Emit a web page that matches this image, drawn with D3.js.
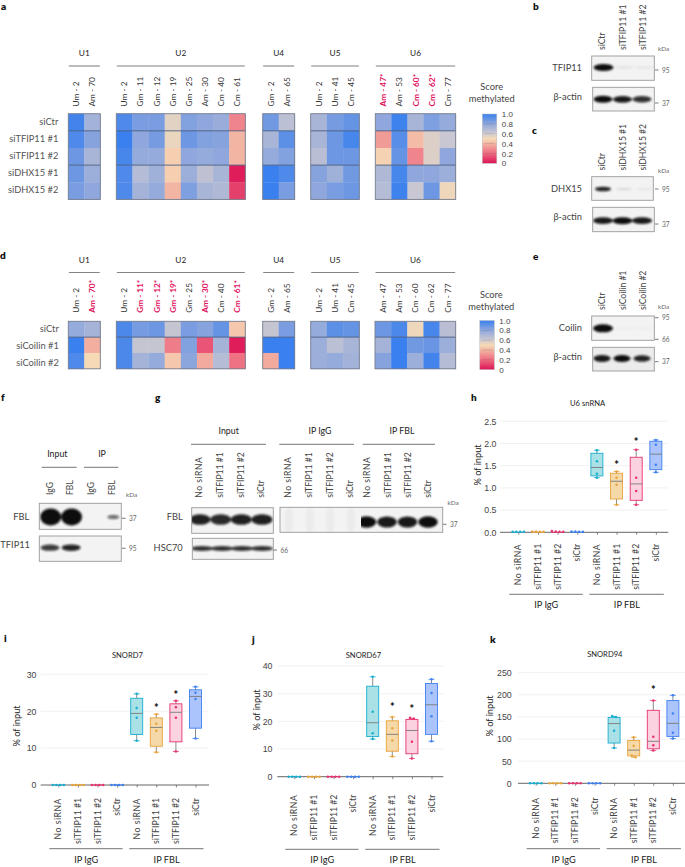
<!DOCTYPE html>
<html>
<head>
<meta charset="utf-8">
<script src="https://cdn.jsdelivr.net/npm/d3@7"></script>
<style>
html, body { margin: 0; padding: 0; background: #fff; }
svg { display: block; font-family: Lato, "Open Sans", sans-serif; fill: #333; }
</style>
</head>
<body>
<svg id="fig" width="685" height="867"></svg>
<script>
// heatmap columns
var colsU1 = ["Um - 2", "Am - 70"];
var colsU2 = ["Um - 2", "Gm - 11", "Gm - 12", "Gm - 19", "Gm - 25", "Am - 30", "Cm - 40", "Cm - 61"];
var colsU4 = ["Gm - 2", "Am - 65"];
var colsU5 = ["Um - 2", "Um - 41", "Cm - 45"];
var colsU6 = ["Am - 47", "Am - 53", "Cm - 60", "Cm - 62", "Cm - 77"];

// * = significant, drawn in red
var colsU6a = ["Am - 47*", "Am - 53", "Cm - 60*", "Cm - 62*", "Cm - 77"];
var colsU1d = ["Um - 2", "Am - 70*"];
var colsU2d = ["Um - 2", "Gm - 11*", "Gm - 12*", "Gm - 19*", "Gm - 25", "Am - 30*", "Cm - 40", "Cm - 61*"];

var rowsA = ["siCtr", "siTFIP11 #1", "siTFIP11 #2", "siDHX15 #1", "siDHX15 #2"];
var rowsD = ["siCtr", "siCoilin #1", "siCoilin #2"];

var aU1 = [[.98, .74], [.95, .82], [.88, .72], [.88, .76], [.85, .80]];
var aU2 = [
    [.95, .85, .85, .55, .83, .80, .77, .27],
    [1.0, .80, .86, .53, .88, .83, .82, .40],
    [.97, .78, .78, .47, .80, .78, .80, .40],
    [.95, .68, .75, .47, .76, .65, .72, .02],
    [.95, .73, .78, .40, .84, .72, .70, .10]
];
var aU4 = [[.87, .66], [.72, .92], [.78, .83], [1.0, .95], [1.0, .85]];
var aU5 = [[.72, .86, .90], [.72, .88, .97], [.67, .88, .88], [.82, .75, .87], [.80, .85, .88]];
var aU6 = [
    [.80, .99, .72, .84, .78],
    [.33, .93, .42, .57, .62],
    [.48, .90, .27, .57, .80],
    [.70, .97, .80, .80, .76],
    [.68, .99, .62, .88, .52]
];

var dU1 = [[.78, .73], [1.0, .38], [.95, .50]];
var dU2 = [
    [.96, .86, .88, .63, .85, .82, .90, .45],
    [.96, .63, .63, .25, .83, .15, .73, .02],
    [.96, .73, .78, .45, .81, .37, .68, .22]
];
var dU4 = [[.63, .85], [1, 1], [.37, 1]];
var dU5 = [[.78, .92, .90], [.76, .66, .72], [.76, .78, .74]];
var dU6 = [
    [.88, .96, .52, .97, .67],
    [.73, 1, .87, .89, .76],
    [.82, 1, .76, .98, .68]
];

var scoreStops = [0, .2, .4, .5, .6, .8, 1];
var scoreColors = ["#dc1456", "#ee6a80", "#f3b5a3", "#f6dab6", "#cfcad0", "#8fa7dc", "#3a80ee"];
var scoreTicks = [0, .2, .4, .6, .8, 1];

// box plots
var lanes = ["No siRNA", "siTFIP11 #1", "siTFIP11 #2", "siCtr"];
var laneStroke = ["#18aed0", "#e8a33a", "#e8326f", "#3f80f0"];
var laneFill = ["#a9e1e6", "#f6d9a9", "#fbd2df", "#abc4fb"];

// [low whisker, q1, median, q3, high whisker]
var hBoxes = [[1.23, 1.27, 1.46, 1.78, 1.85], [.62, .75, 1.15, 1.33, 1.37], [.62, .72, 1.09, 1.69, 1.86], [1.35, 1.41, 1.76, 2.05, 2.08]];
var hPts = [[1.85, 1.60, 1.32, 1.23], [1.37, 1.23, 1.07, .62], [1.86, 1.23, .93, .62], [2.08, 1.97, 1.52, 1.35]];
var hIgg = [[.01, .01, .01, .01], [.01, .02, .01, .02], [.01, .02, .03, .01], [.01, .02, .01, .02]];
var hStars = [null, 1.52, 2.05, null];
var hTicks = [0, .5, 1, 1.5, 2, 2.5];

var iBoxes = [[12, 13.7, 19.4, 23.5, 24.7], [8.9, 10.5, 15.6, 18.2, 19.2], [9.1, 11.7, 19.7, 22, 22.8], [12.6, 15.4, 24, 25.8, 26.6]];
var iPts = [[24.7, 20.9, 18.2, 12], [19.2, 16.6, 14.7, 8.9], [22.8, 21.1, 18.2, 9.1], [26.6, 25, 23.3, 12.6]];
var iIgg = [[0, 0, 0, 0], [0, 0, 0, 0], [0, 0, 0, 0], [0, 0, 0, 0]];
var iStars = [null, 21, 24.5, null];
var iTicks = [0, 10, 20, 30];

var jBoxes = [[13.6, 14.5, 19.5, 32.7, 36.1], [7.3, 9.2, 15.3, 20.2, 21.6], [6.6, 8.3, 16.7, 20.7, 21.1], [12.8, 15.3, 26, 33.7, 35.2]];
var jPts = [[36.1, 23.5, 15.7, 13.6], [21.6, 17.5, 13.1, 7.3], [21.3, 20.9, 12.6, 6.6], [35.2, 30.2, 21.8, 12.8]];
var jIgg = [[0, 0, 0, 0], [0, 0, 0, 0], [0, 0, 0, 0], [0, 0, 0, 0]];
var jStars = [null, 25.2, 24.5, null];
var jTicks = [0, 10, 20, 30, 40];

var kBoxes = [[80, 91, 135, 149, 151], [59, 62, 75, 97, 104], [74, 78, 95, 165, 187], [101, 106, 135.5, 187, 199]];
var kPts = [[152, 150, 119, 80], [104, 85, 63, 59], [187, 105, 86, 74], [199, 158, 114, 101]];
var kIgg = [[0, 0, 0, 0], [0, 0, 0, 0], [0, 0, 0, 0], [0, 0, 0, 0]];
var kStars = [null, null, 211, null];
var kTicks = [0, 50, 100, 150, 200, 250];

// western blot band strength per lane, 0 = no band
var bTfip = [1, .07, .05];
var bActin = [1, .95, .85];
var cDhx = [.9, .12, .06];
var cActin = [.95, 1, .95];
var eCoilin = [1, .02, .02];
var eActin = [.95, 1, .9];
var fFbl = [1, 1, 0, .6];
var fTfip = [.8, .9, 0, 0];
var gFbl = [.92, .88, .92, .92];
var gHsc = [.85, .85, .85, .85];
var gIgg = [.03, .03, .03, .03];
var gIp = [1, .95, .95, 1];

var svg = d3.select("#fig");

var defs = svg.append("defs");
var blur = defs.append("filter").attr("id", "blot-blur")
    .attr("x", "-30%").attr("y", "-60%").attr("width", "160%").attr("height", "220%");
blur.append("feGaussianBlur").attr("stdDeviation", 1.2);

var score = d3.scaleLinear().domain(scoreStops).range(scoreColors);

function label(x, y, txt, size, anchor, color, weight) {
    return svg.append("text")
        .attr("x", x).attr("y", y)
        .attr("text-anchor", anchor || "middle")
        .style("font-size", size + "px")
        .style("fill", color || "#333")
        .style("font-weight", weight || null)
        .text(txt);
}

function rule(x1, x2, y, color, w) {
    svg.append("line").attr("x1", x1).attr("x2", x2).attr("y1", y).attr("y2", y)
        .style("stroke", color).style("stroke-width", w);
}

function heatGroup(opt) {
    var x = d3.scaleBand().domain(opt.cols).range([opt.x0, opt.x1]);
    var y = d3.scaleBand().domain(opt.rows).range([opt.y0, opt.y1]);
    var g = svg.append("g");

    opt.values.forEach(function(row, i) {
        g.selectAll(null)
            .data(row)
            .enter()
            .append("rect")
            .attr("x", function(d, j) {return x(opt.cols[j]);})
            .attr("y", y(opt.rows[i]))
            .attr("width", x.bandwidth() + .3)
            .attr("height", y.bandwidth() + .3)
            .style("fill", function(d) {return score(d);});
    });

    opt.splits.forEach(function(r) {
        g.append("line")
            .attr("x1", opt.x0).attr("x2", opt.x1)
            .attr("y1", y(opt.rows[r])).attr("y2", y(opt.rows[r]))
            .style("stroke", "#4c5f80").style("stroke-width", .9);
    });

    g.append("rect")
        .attr("x", opt.x0).attr("y", opt.y0)
        .attr("width", opt.x1 - opt.x0).attr("height", opt.y1 - opt.y0)
        .style("fill", "none").style("stroke", "#757c8c").style("stroke-width", .9);

    // rotated column names
    opt.cols.forEach(function(c) {
        var hit = c.indexOf("*") >= 0;
        g.append("text")
            .attr("transform", "translate(" + (x(c) + x.bandwidth() / 2 + 3) + "," + opt.labelY + ") rotate(-90)")
            .style("font-size", "8.3px")
            .style("fill", hit ? "#e0105c" : "#333")
            .style("font-weight", hit ? 700 : null)
            .text(c);
    });

    rule(opt.x0 + .5, opt.x1 - .5, opt.ruleY, opt.ruleColor, opt.ruleW);
    label((opt.x0 + opt.x1) / 2, opt.ruleY - 10, opt.name, 8.3, "middle", "#222");
}

function heatLegend(x, y0, y1, titleX, titleY, gradId) {
    var y = d3.scaleLinear().domain([0, 1]).range([y1, y0]);
    var grad = defs.append("linearGradient").attr("id", gradId)
        .attr("x1", 0).attr("x2", 0).attr("y1", 1).attr("y2", 0);
    scoreStops.forEach(function(s) {
        grad.append("stop").attr("offset", s).attr("stop-color", score(s));
    });
    svg.append("rect").attr("x", x).attr("y", y0).attr("width", 14.5).attr("height", y1 - y0)
        .style("fill", "url(#" + gradId + ")").style("stroke", "#bbb").style("stroke-width", .5);
    var ax = svg.append("g").attr("transform", "translate(" + (x + 14.5) + ",0)")
        .call(d3.axisRight(y).tickValues(scoreTicks).tickSize(0).tickPadding(5)
            .tickFormat(function(d) {return d == 0 ? "0" : d3.format(".1f")(d);}));
    ax.select(".domain").remove();
    ax.selectAll("text").style("font-size", "8px").style("font-family", "inherit").style("fill", "#444");
    scoreTicks.slice(1, -1).forEach(function(t) {
        svg.append("line").attr("x1", x + 2).attr("x2", x + 12.5).attr("y1", y(t)).attr("y2", y(t))
            .style("stroke", "#555").style("stroke-width", .4).style("opacity", .5);
    });
    label(titleX, titleY, "Score", 9.3, "middle", "#444");
    label(titleX, titleY + 12, "methylated", 9.3, "middle", "#444");
}

function blot(opt) {
    var id = "clip" + (blot.n = (blot.n || 0) + 1);
    defs.append("clipPath").attr("id", id).append("rect")
        .attr("x", opt.x).attr("y", opt.y).attr("width", opt.w).attr("height", opt.h);
    var g = svg.append("g");
    g.append("rect").attr("x", opt.x).attr("y", opt.y).attr("width", opt.w).attr("height", opt.h)
        .style("fill", opt.bg || "#f3f3f3");
    var x = d3.scaleLinear().domain([0, opt.bands.length - 1]).range(opt.laneRange);
    var size = function(i) {return opt.sizes ? opt.sizes[i] : 1;};
    g.append("g").attr("clip-path", "url(#" + id + ")")
        .append("g").attr("filter", "url(#blot-blur)")
        .selectAll("ellipse")
        .data(opt.bands)
        .enter()
        .append("ellipse")
        .attr("cx", function(d, i) {return x(i);})
        .attr("cy", opt.bandY)
        .attr("rx", function(d, i) {return opt.bandW / 2 * Math.sqrt(size(i));})
        .attr("ry", function(d, i) {
            return opt.bandH / 2 * size(i) * (opt.flat ? 1 : Math.max(.45, Math.sqrt(d)));
        })
        .style("fill", "#0c0c0c")
        .style("opacity", function(d) {return d;});
    if (!opt.noBorder) {
        g.append("rect").attr("x", opt.x).attr("y", opt.y).attr("width", opt.w).attr("height", opt.h)
            .style("fill", "none").style("stroke", "#999").style("stroke-width", .9);
    }
    if (opt.name) label(opt.nameX, opt.nameY, opt.name, 9.3, "end", "#444");
}

function kdaTick(x, y, txt) {
    svg.append("line").attr("x1", x).attr("x2", x + 3.5).attr("y1", y).attr("y2", y)
        .style("stroke", "#555").style("stroke-width", .8);
    label(x + 7, y + 2.5, txt, 6.6, "start", "#666");
}

function blotLabels(names, xs, y) {
    names.forEach(function(n, i) {
        svg.append("text")
            .attr("transform", "translate(" + xs[i] + "," + y + ") rotate(-90)")
            .style("font-size", "8.6px").style("fill", "#444")
            .style("letter-spacing", n == "No siRNA" ? ".5px" : null)
            .text(n);
    });
}

function boxPanel(opt) {
    var y = d3.scaleLinear().domain(opt.domain).range([opt.y0, opt.yTop]);
    var step = opt.step;
    var names = [0, 1, 2, 3, 4, 5, 6, 7];
    var x = d3.scalePoint().domain(names).range([opt.lane0, opt.lane0 + step * 7]);
    var g = svg.append("g");

    g.selectAll("line.grid")
        .data(opt.ticks.slice(1))
        .enter()
        .append("line")
        .classed("grid", true)
        .attr("x1", opt.axisX0).attr("x2", opt.axisX1)
        .attr("y1", function(d) {return y(d);}).attr("y2", function(d) {return y(d);})
        .style("stroke", "#efefef").style("stroke-width", .9);

    var yAx = g.append("g").attr("transform", "translate(" + opt.tickX + ",0)")
        .call(d3.axisLeft(y).tickValues(opt.ticks).tickSize(0).tickPadding(0).tickFormat(d3.format(opt.fmt)));
    yAx.select(".domain").remove();
    yAx.selectAll("text").style("font-size", "8.8px").style("font-family", "inherit").style("fill", "#444");

    // zero line and lane ticks
    var xAx = g.append("g").attr("transform", "translate(0," + opt.y0 + ")")
        .call(d3.axisBottom(x).tickSize(2.5).tickFormat(""));
    xAx.select(".domain").attr("d", "M" + opt.axisX0 + ",0H" + opt.axisX1).style("stroke", "#555").style("stroke-width", .9);
    xAx.selectAll("line").style("stroke", "#555").style("stroke-width", .7);

    names.forEach(function(n) {
        g.append("text")
            .attr("transform", "translate(" + (x(n) + 3) + "," + (opt.y0 + opt.labelGap) + ") rotate(-90)")
            .attr("text-anchor", "end")
            .style("font-size", "8.7px").style("fill", "#444")
            .style("letter-spacing", n % 4 == 0 ? ".5px" : null)
            .text(lanes[n % 4]);
    });

    function dots(vals, cx, color) {
        var sorted = vals.slice().sort(d3.descending);
        var groups = [];
        sorted.forEach(function(v) {
            var last = groups[groups.length - 1];
            if (last && y(v) - y(last[last.length - 1]) < 3) last.push(v);
            else groups.push([v]);
        });
        groups.forEach(function(gr) {
            gr.forEach(function(v, i) {
                g.append("circle")
                    .attr("cx", cx + (i - (gr.length - 1) / 2) * 3.8)
                    .attr("cy", y(v))
                    .attr("r", 1.25)
                    .style("fill", color);
            });
        });
    }

    // IP IgG, everything sits on the zero line
    opt.igg.forEach(function(vals, i) {
        var cx = x(i);
        g.append("line").attr("x1", cx - 6).attr("x2", cx + 6).attr("y1", opt.y0).attr("y2", opt.y0)
            .style("stroke", laneStroke[i]).style("stroke-width", .9);
        dots(vals, cx, laneStroke[i]);
    });

    // IP FBL
    opt.boxes.forEach(function(b, i) {
        var cx = x(i + 4), c = laneStroke[i];
        g.append("line").attr("x1", cx).attr("x2", cx).attr("y1", y(b[0])).attr("y2", y(b[4]))
            .style("stroke", "#8c8c8c").style("stroke-width", 1);
        [b[0], b[4]].forEach(function(v) {
            g.append("line").attr("x1", cx - 3).attr("x2", cx + 3).attr("y1", y(v)).attr("y2", y(v))
                .style("stroke", c).style("stroke-width", .8);
        });
        g.append("rect").attr("x", cx - 6).attr("width", 12)
            .attr("y", y(b[3])).attr("height", y(b[1]) - y(b[3]))
            .style("fill", laneFill[i]).style("stroke", c).style("stroke-width", .9);
        g.append("line").attr("x1", cx - 6).attr("x2", cx + 6).attr("y1", y(b[2])).attr("y2", y(b[2]))
            .style("stroke", "#7a7a7a").style("stroke-width", .9);
        dots(opt.pts[i], cx, c);
        if (opt.stars[i] != null) {
            label(cx, y(opt.stars[i]) + 4.4, "*", 11, "middle", "#111", 900);
        }
    });

    // title and brackets
    label(x(3) + step / 2 + .5, opt.titleY, opt.title, 7.6, "middle", "#222");
    svg.append("text")
        .attr("transform", "translate(" + opt.yLabelX + "," + opt.yLabelY + ") rotate(-90)")
        .attr("text-anchor", "middle")
        .style("font-size", "9.2px").style("fill", "#222")
        .text("% of input");
    var bx = opt.bracketY;
    rule(x(0) - 9, x(3) + 5.5, bx, "#666", .9);
    rule(x(4) - 7.5, x(7) + 8, bx, "#666", .9);
    label((x(0) + x(3)) / 2 - 1.5, bx + 14, "IP IgG", 9.2, "middle", "#222");
    label((x(4) + x(7)) / 2 + .5, bx + 14, "IP FBL", 9.2, "middle", "#222");
}

// panel letters
[["a", 1, 10], ["b", 533, 10], ["c", 532, 134], ["d", 0, 259], ["e", 533, 260], ["f", 1, 401],
 ["g", 155, 401], ["h", 471, 401], ["i", 4, 642], ["j", 252, 643], ["k", 490, 643]].forEach(function(p) {
    label(p[1], p[2], p[0], 10, "start", "#111", 800);
});

// panel a heatmaps
var aGroups = [
    {name: "U1", cols: colsU1, values: aU1, x0: 68.3, x1: 100.3},
    {name: "U2", cols: colsU2, values: aU2, x0: 116.3, x1: 245.3},
    {name: "U4", cols: colsU4, values: aU4, x0: 262.7, x1: 294.7},
    {name: "U5", cols: colsU5, values: aU5, x0: 310.7, x1: 359.3},
    {name: "U6", cols: colsU6a, values: aU6, x0: 375.3, x1: 455.7}
];
aGroups.forEach(function(o) {
    o.rows = rowsA; o.y0 = 113.7; o.y1 = 199.4; o.splits = [1, 3];
    o.labelY = 106.5; o.ruleY = 66; o.ruleColor = "#aaa"; o.ruleW = 1.6;
    heatGroup(o);
});
rowsA.forEach(function(r, i) {
    label(58.3, 124.8 + i * 17.05, r, 9.3, "end", "#555");
});
heatLegend(482.3, 114, 163.3, 491.7, 89.5, "legA");

// panel d heatmaps
var dGroups = [
    {name: "U1", cols: colsU1d, values: dU1, x0: 68.3, x1: 100.3},
    {name: "U2", cols: colsU2d, values: dU2, x0: 116.3, x1: 245.3},
    {name: "U4", cols: colsU4, values: dU4, x0: 262.7, x1: 294.7},
    {name: "U5", cols: colsU5, values: dU5, x0: 310.7, x1: 359.3},
    {name: "U6", cols: colsU6, values: dU6, x0: 375, x1: 455.7}
];
dGroups.forEach(function(o) {
    o.rows = rowsD; o.y0 = 321.3; o.y1 = 368.8; o.splits = [1];
    o.labelY = 312.8; o.ruleY = 272.5; o.ruleColor = "#777"; o.ruleW = .9;
    heatGroup(o);
});
rowsD.forEach(function(r, i) {
    label(58.8, 331.8 + i * 17, r, 9.3, "end", "#555");
});
heatLegend(479.8, 320.5, 369.7, 491.3, 297.5, "legD");

// panel b
blotLabels(["siCtr", "siTFIP11 #1", "siTFIP11 #2"], [604.5, 625.5, 645.5], 50);
label(658, 51, "kDa", 6.4, "start", "#666");
blot({x: 591.7, y: 56, w: 62.6, h: 24.3, bands: bTfip, laneRange: [603.5, 644], bandY: 67.5, bandW: 20, bandH: 7, name: "TFIP11", nameX: 582, nameY: 71});
kdaTick(655, 70, "95");
blot({x: 592.7, y: 87.3, w: 61.6, h: 23.7, bands: bActin, laneRange: [603, 642], bandY: 99.3, bandW: 19, bandH: 7, name: "β-actin", nameX: 582, nameY: 100});
kdaTick(655, 103, "37");

// panel c
blotLabels(["siCtr", "siDHX15 #1", "siDHX15 #2"], [604.5, 625.5, 645.5], 170.5);
label(658, 173, "kDa", 6.4, "start", "#666");
blot({x: 591.7, y: 176.7, w: 61.6, h: 23.6, bands: cDhx, laneRange: [603, 645], bandY: 189, bandW: 16, bandH: 5, name: "DHX15", nameX: 582, nameY: 191.5});
kdaTick(655, 189, "95");
blot({x: 592.7, y: 207.3, w: 61.6, h: 24.4, bands: cActin, laneRange: [603, 642], bandY: 220.7, bandW: 20, bandH: 7, name: "β-actin", nameX: 582, nameY: 220});
kdaTick(655, 224, "37");

// panel e
blotLabels(["siCtr", "siCoilin #1", "siCoilin #2"], [604.5, 625.5, 645.5], 310);
label(658, 308.5, "kDa", 6.4, "start", "#666");
blot({x: 591.7, y: 316, w: 62.6, h: 24.3, bands: eCoilin, laneRange: [603, 643], bandY: 328.3, bandW: 20, bandH: 8, name: "Coilin", nameX: 582, nameY: 331});
kdaTick(655, 317.7, "95");
kdaTick(655, 339.3, "66");
blot({x: 592.7, y: 347.3, w: 61.6, h: 23.7, bg: "#ececec", bands: eActin, laneRange: [602, 642], bandY: 358.5, bandW: 17, bandH: 7, name: "β-actin", nameX: 582, nameY: 360});
kdaTick(655, 361.7, "37");

// panel f
label(57.3, 457, "Input", 8.8, "middle", "#222");
label(102, 457, "IP", 8.8, "middle", "#222");
rule(41.7, 76.7, 467.3, "#666", .9);
rule(84, 118.3, 467.3, "#666", .9);
blotLabels(["IgG", "FBL", "IgG", "FBL"], [52.5, 73, 94, 115], 495);
label(126, 497, "kDa", 6.4, "start", "#666");
blot({x: 39.3, y: 503.3, w: 82, h: 26, bands: fFbl, sizes: [1, 1, 1, .32], laneRange: [50.7, 113.3], bandY: 517, bandW: 21, bandH: 17, name: "FBL", nameX: 29.3, nameY: 519.5});
kdaTick(122, 518.3, "37");
blot({x: 39.3, y: 536, w: 82, h: 25.3, bands: fTfip, laneRange: [50, 113.3], bandY: 547.7, bandW: 19, bandH: 7, name: "TFIP11", nameX: 30, nameY: 548});
kdaTick(122, 548.3, "95");

// panel g
label(228.7, 434, "Input", 8.8, "middle", "#222");
label(320, 434, "IP IgG", 8.8, "middle", "#222");
label(402, 434, "IP FBL", 8.8, "middle", "#222");
rule(191, 266, 444.3, "#666", .9);
rule(279.3, 354, 444.3, "#666", .9);
rule(362.7, 435, 444.3, "#666", .9);
blotLabels(lanes, [202, 223, 244, 264], 497.7);
blotLabels(lanes, [291, 312, 333, 353], 497.7);
blotLabels(lanes, [369.5, 390.5, 411, 431], 497.7);
label(447.5, 505, "kDa", 6.4, "start", "#666");
blot({x: 191.7, y: 507.7, w: 81.6, h: 25.6, bands: gFbl, laneRange: [200, 262], bandY: 519.5, bandW: 21, bandH: 11, name: "FBL", nameX: 182.7, nameY: 520});
blot({x: 192.3, y: 538.3, w: 81, h: 21, bands: gHsc, laneRange: [202, 262], bandY: 548.5, bandW: 22, bandH: 5.5, name: "HSC70", nameX: 182.7, nameY: 551});
kdaTick(273.5, 550, "66");
blot({x: 280, y: 507.3, w: 81, h: 25, flat: true, noBorder: true, bands: gIgg, laneRange: [289, 351], bandY: 520, bandW: 9, bandH: 26});
blot({x: 361, y: 507.3, w: 81.7, h: 25, noBorder: true, bands: gIp, laneRange: [366.5, 428], bandY: 522, bandW: 19.5, bandH: 11.5});
svg.append("rect").attr("x", 280).attr("y", 507.3).attr("width", 162.7).attr("height", 25)
    .style("fill", "none").style("stroke", "#999").style("stroke-width", .9);
kdaTick(443, 524.3, "37");

// panels h to k
boxPanel({title: "U6 snRNA", titleY: 405.5, domain: [0, 2.5], y0: 532.3, yTop: 421.3, lane0: 518.3, step: 19.65,
    axisX0: 500, axisX1: 668.3, tickX: 496.5, ticks: hTicks, fmt: ".1f", labelGap: 11.5,
    boxes: hBoxes, pts: hPts, igg: hIgg, stars: hStars,
    yLabelX: 480.5, yLabelY: 465, bracketY: 594.3});
boxPanel({title: "SNORD7", titleY: 658, domain: [0, 30], y0: 785, yTop: 674.3, lane0: 58.3, step: 19.6,
    axisX0: 40.7, axisX1: 209, tickX: 36.5, ticks: iTicks, fmt: "d", labelGap: 13,
    boxes: iBoxes, pts: iPts, igg: iIgg, stars: iStars,
    yLabelX: 20, yLabelY: 726, bracketY: 848.7});
boxPanel({title: "SNORD67", titleY: 658, domain: [0, 40], y0: 776.7, yTop: 666, lane0: 294.3, step: 19.6,
    axisX0: 277.3, axisX1: 443.3, tickX: 272.5, ticks: jTicks, fmt: "d", labelGap: 18,
    boxes: jBoxes, pts: jPts, igg: jIgg, stars: jStars,
    yLabelX: 259.5, yLabelY: 710, bracketY: 849.3});
boxPanel({title: "SNORD94", titleY: 656.5, domain: [0, 250], y0: 783.3, yTop: 672.7, lane0: 535.7, step: 19.6,
    axisX0: 518, axisX1: 685, tickX: 511.7, ticks: kTicks, fmt: "d", labelGap: 14,
    boxes: kBoxes, pts: kPts, igg: kIgg, stars: kStars,
    yLabelX: 493, yLabelY: 716, bracketY: 848.7});
</script>
</body>
</html>
